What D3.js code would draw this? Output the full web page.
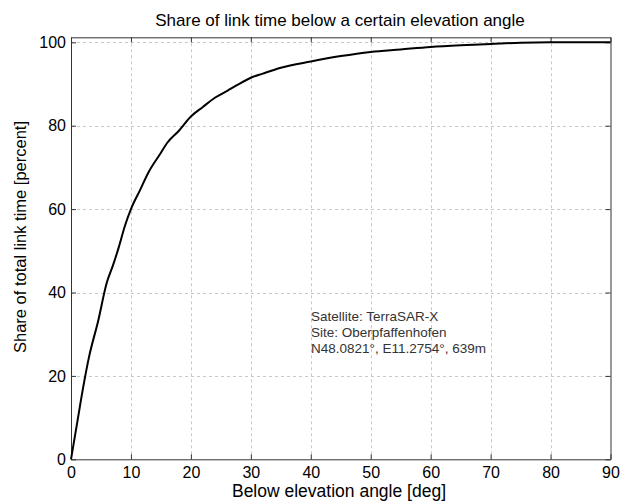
<!DOCTYPE html>
<html><head><meta charset="utf-8">
<script src="https://cdn.jsdelivr.net/npm/d3@7"></script>
<style>body{margin:0;background:#fff}svg{display:block}text{font-family:"Liberation Sans",Arial,sans-serif}</style>
</head><body><svg id="c" width="621" height="504"></svg>
<script>
const angles = [0, 1, 2, 3, 4.5, 6, 7, 8, 9, 10, 11.5, 13, 15, 16, 18, 20, 22, 24, 26, 28, 30, 32, 35, 40, 45, 50, 55, 60, 65, 70, 75, 80, 90];
const shares = [0, 8.5, 17, 24.5, 33, 42.5, 46.5, 51, 56, 60, 64.5, 69, 73.5, 75.8, 78.8, 82.2, 84.5, 86.7, 88.3, 90, 91.5, 92.5, 93.9, 95.4, 96.7, 97.7, 98.3, 98.9, 99.3, 99.6, 99.9, 100, 100];
const xTicks = [0,10,20,30,40,50,60,70,80,90];
const yTicks = [0,20,40,60,80,100];
const titleText = "Share of link time below a certain elevation angle";
const xLabel = "Below elevation angle [deg]";
const yLabel = "Share of total link time [percent]";
const notes = ["Satellite: TerraSAR-X", "Site: Oberpfaffenhofen", "N48.0821°, E11.2754°, 639m"];

const svg = d3.select("#c");
const L=71, R=610.5, T=37.3, B=459.3;
const x = d3.scaleLinear().domain([0,90]).range([L,R]);
const y = d3.scaleLinear().domain([0,101.2]).range([B,T]);
const g = svg.append("g");

// grid
g.selectAll(".gx").data(xTicks.slice(1,-1)).enter().append("line")
 .attr("x1",d=>Math.round(x(d))+0.5).attr("x2",d=>Math.round(x(d))+0.5).attr("y1",T).attr("y2",B)
 .attr("stroke","#c8c8c8").attr("stroke-dasharray","3,3").attr("stroke-width",1);
g.selectAll(".gy").data(yTicks.slice(1)).enter().append("line")
 .attr("y1",d=>Math.round(y(d))+0.5).attr("y2",d=>Math.round(y(d))+0.5).attr("x1",L).attr("x2",R)
 .attr("stroke","#c8c8c8").attr("stroke-dasharray","3,3").attr("stroke-width",1);

// axes with inward ticks
const ax = d3.axisBottom(x).tickValues(xTicks).tickSize(-5).tickPadding(7).tickSizeOuter(0);
const axT = d3.axisTop(x).tickValues(xTicks).tickSize(-5).tickFormat("").tickSizeOuter(0);
const ay = d3.axisLeft(y).tickValues(yTicks).tickSize(-5).tickPadding(5).tickSizeOuter(0);
const ayR = d3.axisRight(y).tickValues(yTicks).tickSize(-5).tickFormat("").tickSizeOuter(0);
function style(sel){
  sel.selectAll("path").attr("stroke","#333").attr("stroke-width",1);
  sel.selectAll("line").attr("stroke","#333");
  sel.selectAll("text").attr("fill","#000").style("font-size","16px").style("font-family",'"Liberation Sans",Arial,sans-serif');
}
g.append("g").attr("transform",`translate(0,${B})`).call(ax).call(style);
g.append("g").attr("transform",`translate(0,${T})`).call(axT).call(style);
g.append("g").attr("transform",`translate(${L},0)`).call(ay).call(style);
g.append("g").attr("transform",`translate(${R},0)`).call(ayR).call(style);

// curve
const line = d3.line().x((d,i)=>x(angles[i])).y(d=>y(d)).curve(d3.curveMonotoneX);
g.append("path").datum(shares).attr("d",line).attr("fill","none").attr("stroke","#000").attr("stroke-width",2);

// texts
svg.append("text").attr("x",340).attr("y",26).attr("text-anchor","middle").style("font-size","17px").text(titleText);
svg.append("text").attr("x",339).attr("y",497).attr("text-anchor","middle").style("font-size","17.5px").text(xLabel);
svg.append("text").attr("transform",`translate(26,237) rotate(-90)`).attr("text-anchor","middle").style("font-size","16.5px").text(yLabel);
svg.append("g").selectAll("text").data(notes).enter().append("text")
 .attr("x",311).attr("y",(d,i)=>321+i*16).style("font-size","13.5px").attr("fill","#333").text(d=>d);
</script></body></html>
